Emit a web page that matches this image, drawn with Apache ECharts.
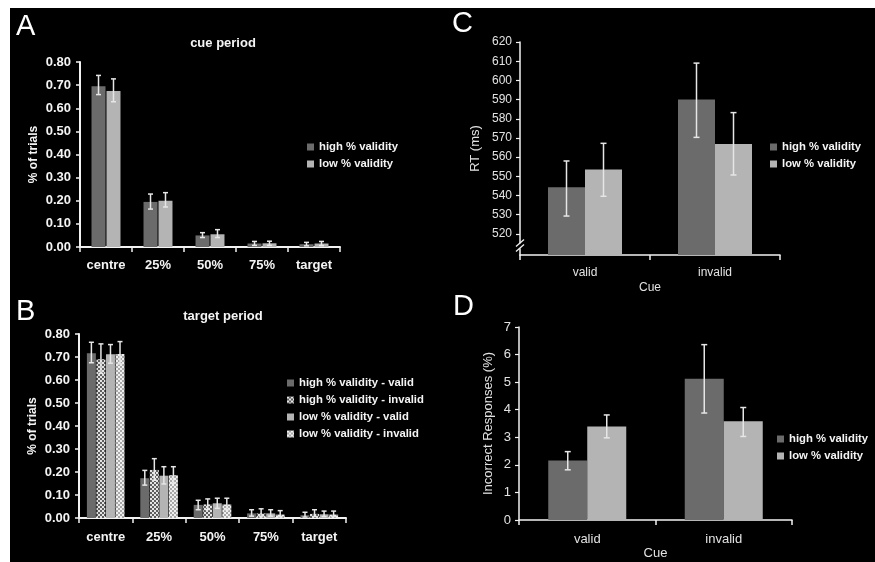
<!DOCTYPE html>
<html>
<head>
<meta charset="utf-8">
<script src="https://cdn.jsdelivr.net/npm/echarts@6/dist/echarts.min.js"></script>
<style>
html,body{margin:0;padding:0;background:#fff;}
#bg{position:absolute;left:10px;top:8px;width:865px;height:554px;background:#000;}
#chart{position:absolute;left:0;top:0;width:875px;height:562px;}
</style>
</head>
<body>
<div id="bg"></div>
<div id="chart"></div>
<script>
// ---------- data ----------
const distCategories = ['centre', '25%', '50%', '75%', 'target'];
const cueCategories = ['valid', 'invalid'];

const legendTwo = ['high % validity', 'low % validity'];
const legendFour = ['high % validity - valid', 'high % validity - invalid', 'low % validity - valid', 'low % validity - invalid'];

// Panel A: cue period
const A_high = [0.695, 0.195, 0.050, 0.015, 0.012];
const A_high_up = [0.742, 0.229, 0.062, 0.024, 0.020];
const A_high_lo = [0.659, 0.164, 0.041, 0.007, 0.005];
const A_low = [0.675, 0.200, 0.055, 0.016, 0.015];
const A_low_up = [0.727, 0.235, 0.075, 0.025, 0.024];
const A_low_lo = [0.628, 0.173, 0.041, 0.007, 0.006];

// Panel B: target period
const B_hv = [0.716, 0.173, 0.057, 0.020, 0.012];
const B_hv_up = [0.764, 0.207, 0.077, 0.036, 0.025];
const B_hv_lo = [0.675, 0.143, 0.036, 0.008, 0.004];
const B_hi = [0.690, 0.209, 0.059, 0.020, 0.018];
const B_hi_up = [0.757, 0.258, 0.083, 0.040, 0.036];
const B_hi_lo = [0.629, 0.164, 0.037, 0.005, 0.006];
const B_lv = [0.712, 0.184, 0.064, 0.020, 0.016];
const B_lv_up = [0.754, 0.223, 0.086, 0.036, 0.030];
const B_lv_lo = [0.673, 0.148, 0.042, 0.008, 0.006];
const B_li = [0.713, 0.186, 0.059, 0.015, 0.015];
const B_li_up = [0.767, 0.223, 0.086, 0.032, 0.030];
const B_li_lo = [0.670, 0.151, 0.036, 0.005, 0.006];

// Panel C: RT (ms)
const C_high = [544.3, 590.1];
const C_high_up = [558.0, 609.0];
const C_high_lo = [529.3, 570.3];
const C_low = [553.6, 566.9];
const C_low_up = [567.2, 583.2];
const C_low_lo = [539.6, 550.7];
const C_ticks = [520, 530, 540, 550, 560, 570, 580, 590, 600, 610, 620];

// Panel D: Incorrect responses (%)
const D_high = [2.16, 5.12];
const D_high_up = [2.48, 6.36];
const D_high_lo = [1.82, 3.88];
const D_low = [3.39, 3.58];
const D_low_up = [3.81, 4.08];
const D_low_lo = [2.98, 3.03];

// ---------- styles ----------
const FONT = '"Liberation Sans", Arial, sans-serif';
const DARK = '#6b6b6b';
const LIGHT = '#b4b4b4';
const ERR = '#e6e6e6';
const AXIS = '#f2f2f2';

function checker(base, sq, s) {
  const cv = document.createElement('canvas');
  cv.width = 2 * s; cv.height = 2 * s;
  const ctx = cv.getContext('2d');
  ctx.fillStyle = base; ctx.fillRect(0, 0, 2 * s, 2 * s);
  ctx.fillStyle = sq; ctx.fillRect(0, 0, s, s); ctx.fillRect(s, s, s, s);
  return { image: cv, repeat: 'repeat' };
}
const HI_CHECK = checker('#5e5e5e', '#e4e4e4', 2);
const LO_CHECK = checker('#a8a8a8', '#f0f0f0', 2);

function zipErr(lo, up) { return lo.map((v, i) => [i, v, up[i]]); }

function errSeries(name, axisIdx, lo, up, n, w, gapFrac, i, cap, lw) {
  return {
    type: 'custom', name: name, xAxisIndex: axisIdx, yAxisIndex: axisIdx,
    data: zipErr(lo, up), encode: { x: 0, y: [1, 2] }, z: 5, silent: true,
    renderItem: function (params, api) {
      const p1 = api.coord([api.value(0), api.value(1)]);
      const p2 = api.coord([api.value(0), api.value(2)]);
      const gap = w * gapFrac;
      const total = n * w + (n - 1) * gap;
      const cx = p1[0] - total / 2 + w / 2 + i * (w + gap);
      const st = { stroke: ERR, lineWidth: lw };
      return {
        type: 'group', children: [
          { type: 'line', shape: { x1: cx, y1: p1[1], x2: cx, y2: p2[1] }, style: st },
          { type: 'line', shape: { x1: cx - cap / 2, y1: p1[1], x2: cx + cap / 2, y2: p1[1] }, style: st },
          { type: 'line', shape: { x1: cx - cap / 2, y1: p2[1], x2: cx + cap / 2, y2: p2[1] }, style: st }
        ]
      };
    }
  };
}

function barSeries(name, axisIdx, data, color, w, gap) {
  return {
    type: 'bar', name: name, xAxisIndex: axisIdx, yAxisIndex: axisIdx, data: data,
    barWidth: w, barGap: gap, itemStyle: { color: color }, silent: true
  };
}

const boldLabel = { color: '#f4f4f4', fontFamily: FONT, fontWeight: 'bold', fontSize: 13 };
const normLabel = { color: '#e2e2e2', fontFamily: FONT, fontWeight: 'normal', fontSize: 12 };

function catAxis(idx, cats, labelStyle, margin, extra) {
  return Object.assign({
    type: 'category', gridIndex: idx, data: cats,
    axisLine: { lineStyle: { color: AXIS, width: 2 } },
    axisTick: { show: true, length: 5, lineStyle: { color: AXIS, width: 1.5 } },
    axisLabel: Object.assign({ margin: margin }, labelStyle),
    splitLine: { show: false }
  }, extra || {});
}

const legendText = { color: '#f4f4f4', fontFamily: FONT, fontWeight: 'bold', fontSize: 11.3, lineHeight: 14 };
function legend(data, left, top) {
  return {
    data: data, left: left, top: top, orient: 'vertical', padding: 0,
    itemWidth: 7, itemHeight: 7, itemGap: 3, icon: 'rect',
    textStyle: legendText, selectedMode: false
  };
}

const option = {
  backgroundColor: 'transparent',
  animation: false,
  textStyle: { fontFamily: FONT },
  title: [
    { text: 'cue period', left: 223, top: 37, textAlign: 'center', padding: 0,
      textStyle: { color: '#f4f4f4', fontFamily: FONT, fontWeight: 'bold', fontSize: 13 } },
    { text: 'target period', left: 223, top: 310, textAlign: 'center', padding: 0,
      textStyle: { color: '#f4f4f4', fontFamily: FONT, fontWeight: 'bold', fontSize: 13 } }
  ],
  grid: [
    { left: 80, top: 62, width: 260, height: 185, containLabel: false, outerBoundsMode: 'none' },
    { left: 79, top: 334, width: 267, height: 184, containLabel: false, outerBoundsMode: 'none' },
    { left: 520, top: 42, width: 260, height: 213, containLabel: false, outerBoundsMode: 'none' },
    { left: 519, top: 327, width: 273, height: 193, containLabel: false, outerBoundsMode: 'none' }
  ],
  legend: [
    legend(legendTwo, 307, 140),
    legend(legendFour, 287, 376),
    legend(legendTwo, 770, 140),
    legend(legendTwo, 777, 432)
  ],
  xAxis: [
    catAxis(0, distCategories, boldLabel, 12),
    catAxis(1, distCategories, boldLabel, 13),
    catAxis(2, cueCategories, normLabel, 12, {
      name: 'Cue', nameLocation: 'middle', nameGap: 27,
      nameTextStyle: { color: '#e2e2e2', fontFamily: FONT, fontSize: 12 },
      axisLine: { lineStyle: { color: AXIS, width: 1.5 } }
    }),
    catAxis(3, cueCategories, normLabel, 13, {
      name: 'Cue', nameLocation: 'middle', nameGap: 27,
      nameTextStyle: { color: '#e2e2e2', fontFamily: FONT, fontSize: 13 },
      axisLabel: Object.assign({ margin: 13 }, normLabel, { fontSize: 13 }),
      axisLine: { lineStyle: { color: AXIS, width: 1.5 } }
    })
  ],
  yAxis: [
    {
      type: 'value', gridIndex: 0, min: 0, max: 0.8, interval: 0.1,
      name: '% of trials', nameLocation: 'middle', nameGap: 40,
      nameTextStyle: { color: '#f4f4f4', fontFamily: FONT, fontWeight: 'bold', fontSize: 12 },
      axisLine: { show: true, lineStyle: { color: AXIS, width: 2 } },
      axisTick: { show: true, length: 4, lineStyle: { color: AXIS, width: 1.5 } },
      axisLabel: Object.assign({ margin: 9, formatter: v => v.toFixed(2) }, boldLabel),
      splitLine: { show: false }
    },
    {
      type: 'value', gridIndex: 1, min: 0, max: 0.8, interval: 0.1,
      name: '% of trials', nameLocation: 'middle', nameGap: 40,
      nameTextStyle: { color: '#f4f4f4', fontFamily: FONT, fontWeight: 'bold', fontSize: 12 },
      axisLine: { show: true, lineStyle: { color: AXIS, width: 2 } },
      axisTick: { show: true, length: 4, lineStyle: { color: AXIS, width: 1.5 } },
      axisLabel: Object.assign({ margin: 9, formatter: v => v.toFixed(2) }, boldLabel),
      splitLine: { show: false }
    },
    {
      type: 'value', gridIndex: 2, min: 509, max: 620,
      name: 'RT (ms)', nameLocation: 'middle', nameGap: 38,
      nameTextStyle: { color: '#e2e2e2', fontFamily: FONT, fontSize: 13 },
      axisLine: { show: true, lineStyle: { color: AXIS, width: 1.5 } },
      axisTick: { show: true, length: 4, customValues: C_ticks, lineStyle: { color: AXIS, width: 1.2 } },
      axisLabel: Object.assign({ margin: 8, customValues: C_ticks }, normLabel),
      splitLine: { show: false }
    },
    {
      type: 'value', gridIndex: 3, min: 0, max: 7, interval: 1,
      name: 'Incorrect Responses (%)', nameLocation: 'middle', nameGap: 24,
      nameTextStyle: { color: '#e2e2e2', fontFamily: FONT, fontSize: 13 },
      axisLine: { show: true, lineStyle: { color: AXIS, width: 1.5 } },
      axisTick: { show: true, length: 4, lineStyle: { color: AXIS, width: 1.2 } },
      axisLabel: Object.assign({ margin: 8 }, normLabel, { fontSize: 13 }),
      splitLine: { show: false }
    }
  ],
  series: [
    barSeries(legendTwo[0], 0, A_high, DARK, 14, '7%'),
    barSeries(legendTwo[1], 0, A_low, LIGHT, 14, '7%'),
    errSeries('eA1', 0, A_high_lo, A_high_up, 2, 14, 0.07, 0, 5, 1.5),
    errSeries('eA2', 0, A_low_lo, A_low_up, 2, 14, 0.07, 1, 5, 1.5),

    barSeries(legendFour[0], 1, B_hv, DARK, 9, '6%'),
    barSeries(legendFour[1], 1, B_hi, HI_CHECK, 9, '6%'),
    barSeries(legendFour[2], 1, B_lv, LIGHT, 9, '6%'),
    barSeries(legendFour[3], 1, B_li, LO_CHECK, 9, '6%'),
    errSeries('eB1', 1, B_hv_lo, B_hv_up, 4, 9, 0.06, 0, 5, 1.5),
    errSeries('eB2', 1, B_hi_lo, B_hi_up, 4, 9, 0.06, 1, 5, 1.5),
    errSeries('eB3', 1, B_lv_lo, B_lv_up, 4, 9, 0.06, 2, 5, 1.5),
    errSeries('eB4', 1, B_li_lo, B_li_up, 4, 9, 0.06, 3, 5, 1.5),

    barSeries(legendTwo[0], 2, C_high, DARK, 37, '0%'),
    barSeries(legendTwo[1], 2, C_low, LIGHT, 37, '0%'),
    errSeries('eC1', 2, C_high_lo, C_high_up, 2, 37, 0, 0, 6, 1.5),
    errSeries('eC2', 2, C_low_lo, C_low_up, 2, 37, 0, 1, 6, 1.5),

    barSeries(legendTwo[0], 3, D_high, DARK, 39, '0%'),
    barSeries(legendTwo[1], 3, D_low, LIGHT, 39, '0%'),
    errSeries('eD1', 3, D_high_lo, D_high_up, 2, 39, 0, 0, 6, 1.5),
    errSeries('eD2', 3, D_low_lo, D_low_up, 2, 39, 0, 1, 6, 1.5)
  ]
};

const chart = echarts.init(document.getElementById('chart'), null, { renderer: 'canvas' });
chart.setOption(option);

// panel letters and axis-break mark
const letterStyle = { fill: '#ffffff', font: 'normal 29px ' + FONT };
const axisX = chart.getModel().getComponent('grid', 2).coordinateSystem.getRect().x;
const yb = chart.convertToPixel({ yAxisIndex: 2 }, 514);
chart.setOption({
  graphic: [
    { type: 'text', left: 16, top: 12, style: Object.assign({ text: 'A' }, letterStyle) },
    { type: 'text', left: 16, top: 297, style: Object.assign({ text: 'B' }, letterStyle) },
    { type: 'text', left: 452, top: 9, style: Object.assign({ text: 'C' }, letterStyle) },
    { type: 'text', left: 453, top: 292, style: Object.assign({ text: 'D' }, letterStyle) },
    { type: 'rect', shape: { x: axisX - 2, y: yb - 2, width: 4, height: 5 }, style: { fill: '#000' }, z: 100 },
    { type: 'line', shape: { x1: axisX - 4, y1: yb + 1, x2: axisX + 4, y2: yb - 6 }, style: { stroke: AXIS, lineWidth: 1.3 }, z: 101 },
    { type: 'line', shape: { x1: axisX - 4, y1: yb + 6, x2: axisX + 4, y2: yb - 1 }, style: { stroke: AXIS, lineWidth: 1.3 }, z: 101 }
  ]
});
</script>
</body>
</html>
